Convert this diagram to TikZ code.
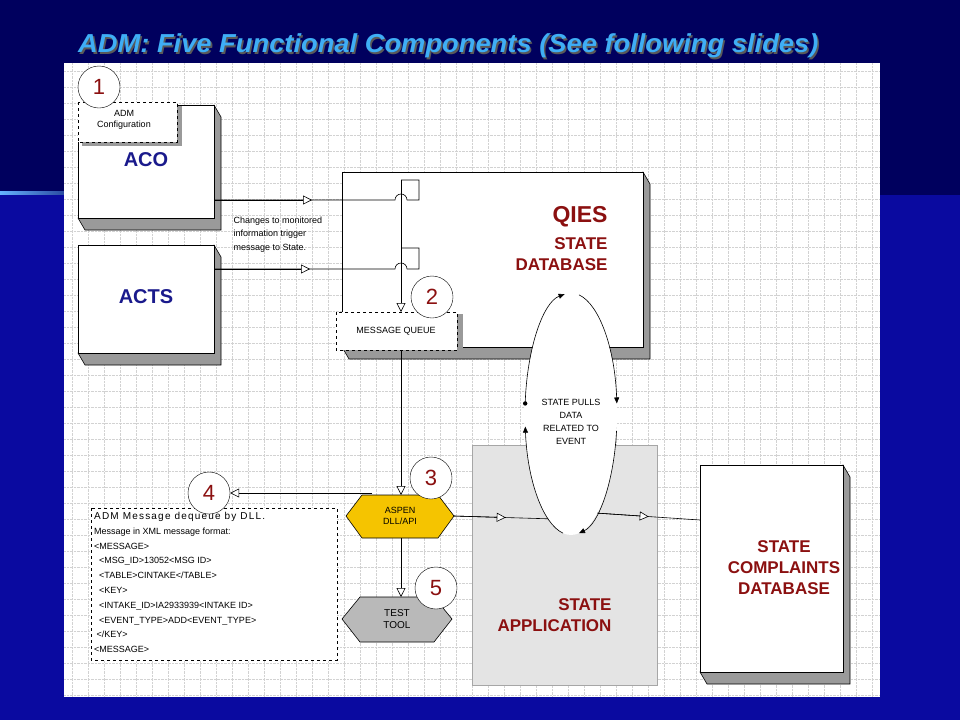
\documentclass[tikz,border=0pt]{standalone}
\usepackage{fontspec}
\setmainfont{Liberation Sans}
\usetikzlibrary{arrows.meta,shapes.geometric,calc}
\definecolor{navytop}{HTML}{00005E}
\definecolor{navylow}{HTML}{0A0AA0}
\definecolor{titleblue}{HTML}{3FAEF5}
\definecolor{dred}{HTML}{8B1010}
\definecolor{dblue}{HTML}{1A1A8C}
\definecolor{shadegray}{HTML}{9A9A9A}
\definecolor{aspen}{HTML}{F5C400}
\definecolor{appgray}{HTML}{E4E4E4}
\tikzset{
  front/.style={draw=black,fill=white,line width=0.8pt},
  dashbox/.style={draw=black,dashed,fill=white,line width=0.7pt},
  numc/.style={circle,draw=black,fill=white,minimum size=42pt,inner sep=0pt,font=\fontsize{22}{22}\selectfont,text=dred},
  small/.style={font=\fontsize{9}{11}\selectfont,align=center},
  conn/.style={line width=0.6pt},
  oarr/.style={-{Triangle[length=9pt,width=9pt,fill=white]},line width=0.6pt},
  barr/.style={-{Triangle[length=6pt,width=5pt]},line width=0.6pt},
  bigred/.style={font=\bfseries\fontsize{17}{21}\selectfont,text=dred},
  gridln/.style={gray!35,densely dotted,line width=0.4pt},
}
\newcommand{\threed}[4]{% x1 y1 x2 y2
  \filldraw[fill=shadegray,draw=black,line width=0.6pt] (#1,#4) -- (#1+7,#4+12) -- (#3+7,#4+12) -- (#3+7,#2+12) -- (#3,#2) -- cycle;
  \draw[front] (#1,#2) rectangle (#3,#4);}
\newcommand{\ttl}{ADM: Five Functional Components (See following slides)}
\begin{document}
\begin{tikzpicture}[x=1pt,y=-1pt]
\useasboundingbox (0,0) rectangle (960,720);
% background
\fill[navytop] (0,0) rectangle (960,720);
\fill[navylow] (0,195) rectangle (960,720);
\shade[left color=blue!50!cyan!60,right color=navytop] (0,191) rectangle (110,194);
% title
\node[anchor=west,inner sep=0pt,font=\bfseries\itshape\fontsize{26}{28}\selectfont] (title) at (78,47)
  {\scalebox{1.05}[1]{\rlap{\hspace{1.5pt}\raisebox{-1.5pt}{\color{black!65}\ttl}}\color{titleblue}\ttl}};
% diagram canvas
\fill[white] (64,63) rectangle (880,697);
\foreach \gx in {72,88,...,872} \draw[gridln] (\gx,63) -- (\gx,697);
\foreach \gy in {71,87,...,695} \draw[gridln] (64,\gy) -- (880,\gy);
% ACO and ACTS
\threed{78}{105}{214}{218}
\node[font=\bfseries\fontsize{20}{20}\selectfont,text=dblue] (aco) at (146,160) {ACO};
\threed{78}{245}{214}{353}
\node[font=\bfseries\fontsize{20}{20}\selectfont,text=dblue] (acts) at (146,297) {ACTS};
% ADM configuration
\fill[shadegray] (177,106) rectangle (182,146);
\fill[shadegray] (82,142) rectangle (182,146);
\draw[dashbox] (78,102) rectangle (177,142);
\node[small] (admconf) at (124,120) {ADM\\Configuration};
\node[numc] (n1) at (99,87) {1};
% QIES
\threed{342}{172}{643}{347}
\node[bigred,align=right,anchor=north east,font=\bfseries\fontsize{23}{23}\selectfont] (qies) at (611,203) {QIES};
\node[bigred,align=right,anchor=north east] (qstate) at (611,234) {STATE\\DATABASE};
% connectors from ACO / ACTS
\coordinate (acoR) at (214,200);
\coordinate (actsR) at (214,269);
\draw[conn] (acoR) -- (395,200) arc[start angle=180,end angle=360,radius=6] -- (419,200) -- (419,180) -- (401,180);
\draw[oarr] (acoR) -- (312,200);
\draw[conn] (actsR) -- (395,269) arc[start angle=180,end angle=360,radius=6] -- (419,269) -- (419,248) -- (401,248);
\draw[oarr] (actsR) -- (310,269);
\node[small,align=left,anchor=north west,font=\fontsize{9}{13.5}\selectfont] (chg) at (230,213) {Changes to monitored\\information trigger\\message to State.};
% message queue
\fill[shadegray] (457,314) rectangle (463,352);
\draw[dashbox] (336,312) rectangle (457,350);
\node[small] (mq) at (396,331) {MESSAGE QUEUE};
\draw[oarr] (401,180) -- (401,312);
\node[numc] (n2) at (432,297) {2};
% state application
\draw[fill=appgray,draw=gray!70,line width=0.8pt] (472,445) rectangle (657,685);
\node[bigred,align=right,anchor=north east] (sapp) at (615,595) {STATE\\APPLICATION};
% complaints
\threed{700}{465}{843}{672}
\node[bigred,align=center] (scd) at (784,568) {STATE\\COMPLAINTS\\DATABASE};
% ellipse
\coordinate (ec) at (571,414);
\fill[white] (ec) ellipse[x radius=46,y radius=121];
\draw[barr] ($(ec)+(185:46 and 121)$) arc[start angle=185,end angle=262,x radius=46,y radius=121];
\fill ($(ec)+(185:46 and 121)$) circle (2.2);
\draw[barr] ($(ec)+(280:46 and 121)$) arc[start angle=280,end angle=355,x radius=46,y radius=121];
\draw[barr] ($(ec)+(8:46 and 121)$) arc[start angle=8,end angle=80,x radius=46,y radius=121];
\draw[barr] ($(ec)+(100:46 and 121)$) arc[start angle=100,end angle=174,x radius=46,y radius=121];
\node[small,font=\fontsize{9}{13}\selectfont] (pull) at (571,422) {STATE PULLS\\DATA\\RELATED TO\\EVENT};
% ASPEN
\draw[fill=aspen,line width=0.6pt] (346,516) -- (362,495) -- (438,495) -- (454,516) -- (438,538) -- (362,538) -- cycle;
\node[small] (aspen) at (400,516) {ASPEN\\DLL/API};
% TEST TOOL
\draw[fill=gray!55,line width=0.6pt] (342,619) -- (360,597) -- (434,597) -- (452,619) -- (434,642) -- (360,642) -- cycle;
\node[small,font=\fontsize{10}{12}\selectfont] (tt) at (397,619) {TEST\\TOOL};
% connectors
\draw[oarr] (401,350) -- (401,495);
\draw[oarr] (401,538) -- (401,597);
\node[numc] (n3) at (431,478) {3};
\node[numc] (n5) at (436,588) {5};
% message text box
\draw[dashbox] (91,508) rectangle (337,660);
\node[anchor=north west,align=left,inner sep=0pt,font=\fontsize{9}{14.8}\selectfont] (xml) at (94,512)
 {{\fontsize{10}{14.8}\selectfont\addfontfeature{LetterSpace=12}ADM Message dequeue by DLL.}\\Message in XML message format:\\<MESSAGE>\\\ \ <MSG\_ID>13052<MSG ID>\\\ \ <TABLE>CINTAKE</TABLE>\\\ \ <KEY>\\\ \ <INTAKE\_ID>IA2933939<INTAKE ID>\\\ \ <EVENT\_TYPE>ADD<EVENT\_TYPE>\\\ </KEY>\\<MESSAGE>};
\node[numc] (n4) at (209,493) {4};
\draw[oarr] (372,493) -- (n4.east);
% aspen -> ellipse ; ellipse -> complaints
\coordinate (eL) at ($(ec)+(120:46 and 121)$);
\coordinate (eR) at ($(ec)+(55:46 and 121)$);
\draw[conn] (454,516) -- (eL);
\draw[oarr] (454,516) -- ($(454,516)!0.55!(eL)$);
\draw[conn] (eR) -- (700,520);
\draw[oarr] (eR) -- ($(eR)!0.5!(700,520)$);
\end{tikzpicture}
\end{document}
